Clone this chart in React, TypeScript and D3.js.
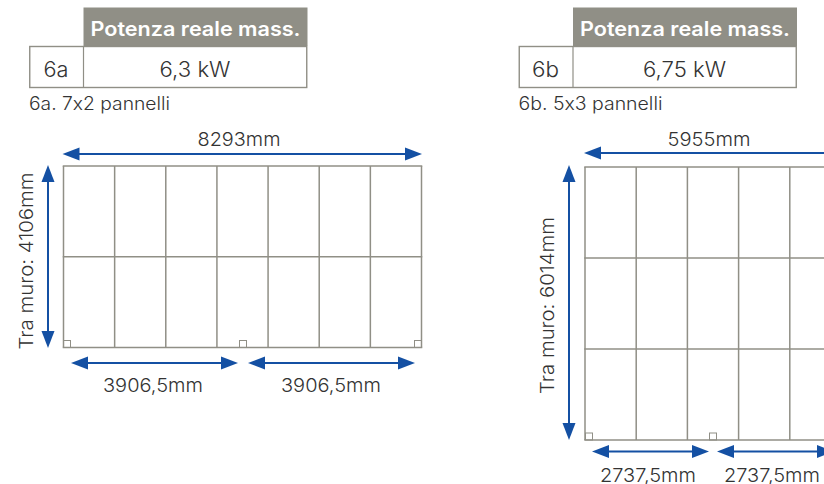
import React from "react";
import * as d3 from "d3";

const headerLabel = "Potenza reale mass.";
const panelCodes = ["6a", "6b"];
const powers = ["6,3 kW", "6,75 kW"];
const captions = ["6a. 7x2 pannelli", "6b. 5x3 pannelli"];
const columnCounts = [7, 5];
const rowCounts = [2, 3];
const widthLabels = ["8293mm", "5955mm"];
const heightLabels = ["Tra muro: 4106mm", "Tra muro: 6014mm"];
const spanLabels = ["3906,5mm", "2737,5mm"];

const GREY = "#908f86";
const BLUE = "#1450a3";
const INK = "#333333";
const FONT = "Inter, 'Open Sans', sans-serif";

type L = { tx: number; g0: number; g1: number; gy0: number; rowH: number; topY: number; vx: number; botY: number; a: [number, number][]; topEnd: number; labelX: number; capY: number; sc: number[]; spanX: number[]; spanBase: number; vLabelX: number; vLabelY: number; vTop: number; vBot: number };

const layouts: L[] = [
  { tx: 29, g0: 63.5, g1: 421.5, gy0: 166, rowH: 90.75, topY: 154, vx: 48, botY: 363, a: [[71, 238], [248, 415]], topEnd: 422, labelX: 239, capY: 110, sc: [63, 239, 414], spanX: [153, 331], spanBase: 392, vLabelX: 33, vLabelY: 261, vTop: 165, vBot: 348 },
  { tx: 518.5, g0: 585, g1: 841, gy0: 167, rowH: 91, topY: 153, vx: 569, botY: 451.5, a: [[592, 709], [717, 834]], topEnd: 842, labelX: 709, capY: 110, sc: [585, 709], spanX: [648, 772], spanBase: 482, vLabelX: 554, vLabelY: 305.5, vTop: 165, vBot: 440 },
];

function HArrow({ x0, x1, y }: { x0: number; x1: number; y: number }) {
  const h = 17, w = 6.5;
  return (
    <g fill={BLUE}>
      <line x1={x0 + h - 1} x2={x1 - h + 1} y1={y} y2={y} stroke={BLUE} strokeWidth={2} />
      <path d={`M${x0},${y}L${x0 + h},${y - w}L${x0 + h},${y + w}Z`} />
      <path d={`M${x1},${y}L${x1 - h},${y - w}L${x1 - h},${y + w}Z`} />
    </g>
  );
}
function VArrow({ y0, y1, x }: { y0: number; y1: number; x: number }) {
  const h = 17, w = 6.5;
  return (
    <g fill={BLUE}>
      <line y1={y0 + h - 1} y2={y1 - h + 1} x1={x} x2={x} stroke={BLUE} strokeWidth={2} />
      <path d={`M${x},${y0}L${x - w},${y0 + h}L${x + w},${y0 + h}Z`} />
      <path d={`M${x},${y1}L${x - w},${y1 - h}L${x + w},${y1 - h}Z`} />
    </g>
  );
}

function Block({ i }: { i: number }) {
  const l = layouts[i];
  const x = d3.scaleLinear().domain([0, columnCounts[i]]).range([l.g0, l.g1]);
  const y = d3.scaleLinear().domain([0, rowCounts[i]]).range([l.gy0, l.gy0 + rowCounts[i] * l.rowH]);
  const tx = l.tx;
  return (
    <g fontFamily={FONT} fill={INK} fontWeight={300} style={{ fontFeatureSettings: "'calt' 0" }}>
      <rect x={tx + 54.5} y={7.5} width={224} height={38.5} fill={GREY} />
      <text x={tx + 166.5} y={36} textAnchor="middle" fill="#fff" fontSize={20} fontWeight={600} textLength={210} lengthAdjust="spacingAndGlyphs">{headerLabel}</text>
      <rect x={tx + 0.75} y={46.5} width={277} height={41} fill="#fff" stroke={GREY} strokeWidth={1.4} />
      <line x1={tx + 54.5} x2={tx + 54.5} y1={46} y2={88} stroke={GREY} strokeWidth={1.2} />
      <text x={tx + 27} y={77} textAnchor="middle" fontSize={21} textLength={i === 0 ? 25 : 27} lengthAdjust="spacingAndGlyphs">{panelCodes[i]}</text>
      <text x={tx + 166} y={77} textAnchor="middle" fontSize={21} textLength={i === 0 ? 71 : 83} lengthAdjust="spacingAndGlyphs">{powers[i]}</text>
      <text x={tx} y={l.capY} fontSize={18} textLength={i === 0 ? 141 : 144} lengthAdjust="spacingAndGlyphs">{captions[i]}</text>

      <text x={l.labelX} y={146} textAnchor="middle" fontSize={18.5} textLength={83} lengthAdjust="spacingAndGlyphs">{widthLabels[i]}</text>
      <HArrow x0={l.g0 - 1} x1={l.topEnd} y={l.topY} />
      <VArrow x={l.vx} y0={l.vTop} y1={l.vBot} />
      <text transform={`translate(${l.vLabelX},${l.vLabelY}) rotate(-90)`} textAnchor="middle" fontSize={18.5} textLength={177} lengthAdjust="spacingAndGlyphs">{heightLabels[i]}</text>

      <g fill="none" stroke={GREY} strokeWidth={1.5}>
        {d3.range(columnCounts[i] + 1).map((k) => (
          <line key={k} x1={x(k)} x2={x(k)} y1={y(0)} y2={y(rowCounts[i])} />
        ))}
        {d3.range(rowCounts[i] + 1).map((k) => (
          <line key={k} x1={l.g0 - 0.75} x2={l.g1 + 0.75} y1={y(k)} y2={y(k)} />
        ))}
      </g>
      <g fill="none" stroke={GREY} strokeWidth={1}>
        {l.sc.map((sx) => (
          <rect key={sx} x={sx + 0.5} y={y(rowCounts[i]) - 7} width={7} height={7} />
        ))}
      </g>
      {l.a.map(([a, b], k) => (
        <g key={k}>
          <HArrow x0={a} x1={b} y={l.botY} />
          <text x={l.spanX[k]} y={l.spanBase} textAnchor="middle" fontSize={18.5} textLength={i === 0 ? 100 : 96} lengthAdjust="spacingAndGlyphs">{spanLabels[i]}</text>
        </g>
      ))}
    </g>
  );
}

export default function App() {
  return (
    <svg width={824} height={484} viewBox="0 0 824 484" style={{ position: "fixed", left: 0, top: 0, background: "#fff" }}>
      {panelCodes.map((_, i) => <Block key={i} i={i} />)}
    </svg>
  );
}
